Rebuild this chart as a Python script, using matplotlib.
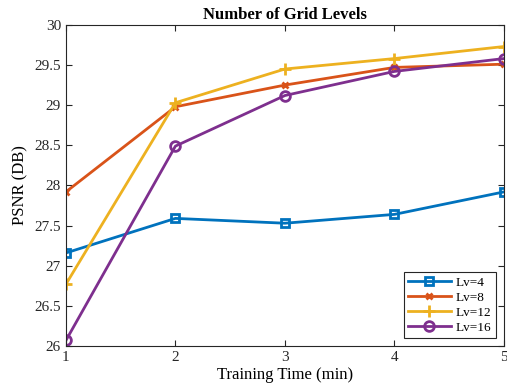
import matplotlib
matplotlib.use("Agg")
import matplotlib.pyplot as plt

plt.rcParams['font.family'] = ['Liberation Serif', 'DejaVu Serif']

# training time (min)
times = [1, 2, 3, 4, 5]

# PSNR per grid level
lv4 = [27.16, 27.59, 27.53, 27.64, 27.92]
lv8 = [27.92, 28.98, 29.25, 29.47, 29.51]
lv12 = [26.77, 29.03, 29.45, 29.58, 29.73]
lv16 = [26.07, 28.49, 29.12, 29.42, 29.58]

series = [
    ("Lv=4", lv4, "#0072BD", "s", 6),
    ("Lv=8", lv8, "#D95319", "x", 5),
    ("Lv=12", lv12, "#EDB120", "+", 8),
    ("Lv=16", lv16, "#7E2F8E", "o", 7),
]

fig = plt.figure(figsize=(5.07, 3.88), dpi=100)
ax = fig.add_axes([0.130, 0.108, 0.864, 0.828])

for name, vals, col, mk, ms in series:
    ax.plot(times, vals, color=col, lw=2.0, marker=mk, markersize=ms,
            markerfacecolor="none", markeredgewidth=2.0, label=name)

ax.set_xlim(1, 5)
ax.set_ylim(26, 30)
ax.set_xticks(times)
ax.set_yticks([26, 26.5, 27, 27.5, 28, 28.5, 29, 29.5, 30])
ax.set_yticklabels(["26", "26.5", "27", "27.5", "28", "28.5", "29", "29.5", "30"])
ax.tick_params(direction="in", top=True, right=True, labelsize=11,
               length=4, width=0.8, colors="#262626")
for s in ax.spines.values():
    s.set_color("#262626")
    s.set_linewidth(0.8)

ax.set_xlabel("Training Time (min)", fontsize=12, labelpad=2)
ax.set_ylabel("PSNR (DB)", fontsize=12, labelpad=4)
ax.set_title("Number of Grid Levels", fontsize=12, fontweight="bold", pad=4)

leg = ax.legend(loc="lower right", fontsize=9.5, fancybox=False, framealpha=1,
                edgecolor="#262626", handlelength=3.2, borderaxespad=0.6,
                labelspacing=0.2, handletextpad=0.4, borderpad=0.35)
leg.get_frame().set_linewidth(0.8)

fig.savefig("out.png", dpi=100)
